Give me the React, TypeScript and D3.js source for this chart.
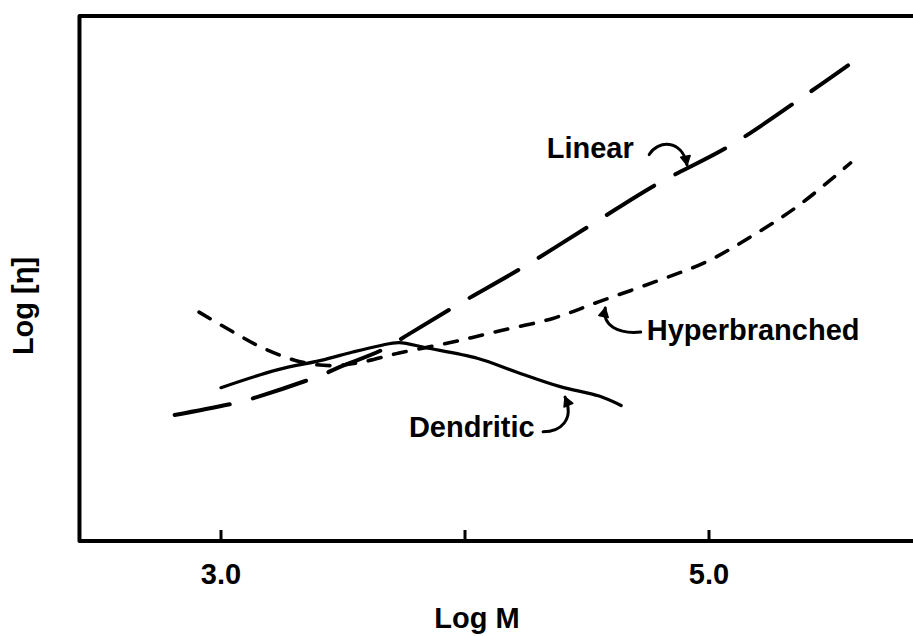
import React from "react";
import * as d3 from "d3";

// ---- data (Log M vs relative Log [η]) ----
const linearLogM = [2.81, 3.07, 3.16, 3.40, 3.49, 3.66, 3.77, 3.97, 4.24, 4.53, 4.78, 5.09, 5.41, 5.57];
const linearLogEta = [1.20, 1.32, 1.38, 1.57, 1.66, 1.82, 1.97, 2.25, 2.61, 3.03, 3.39, 3.77, 4.27, 4.53];

const hyperLogM = [2.91, 3.05, 3.17, 3.32, 3.45, 3.57, 3.73, 3.94, 4.14, 4.36, 4.55, 4.78, 4.99, 5.18, 5.37, 5.58];
const hyperLogEta = [2.18, 1.99, 1.84, 1.71, 1.67, 1.70, 1.79, 1.89, 2.00, 2.12, 2.28, 2.47, 2.66, 2.91, 3.20, 3.60];

const dendLogM = [3.00, 3.23, 3.41, 3.54, 3.65, 3.73, 3.84, 4.05, 4.21, 4.39, 4.55, 4.64];
const dendLogEta = [1.46, 1.63, 1.72, 1.80, 1.86, 1.89, 1.84, 1.74, 1.61, 1.47, 1.38, 1.29];

const xTicks = [3, 4, 5];
const xTickLabels = ["3.0", "", "5.0"];

const xLabel = "Log M";
const yLabel = "Log [η]";

// annotation labels
const labelNames = ["Linear", "Hyperbranched", "Dendritic"];
const labelLogM = [4.335, 4.745, 3.77];
const labelLogEta = [3.65, 1.915, 0.995];

// arrows: start, control1, control2, tip (data units)
const arrowPts: [number, number][][] = [
  [[4.755, 3.68], [4.79, 3.82], [4.89, 3.83], [4.91, 3.58]],
  [[4.72, 1.99], [4.63, 1.97], [4.56, 2.05], [4.575, 2.22]],
  [[4.32, 1.04], [4.39, 1.04], [4.45, 1.15], [4.41, 1.37]],
];

const W = 913;
const H = 636;

export default function App() {
  const x = d3.scaleLinear().domain([3, 5]).range([221, 709]);
  const y = d3.scaleLinear().domain([0, 5]).range([541, 16]);

  const line = d3
    .line<[number, number]>()
    .x((d) => x(d[0]))
    .y((d) => y(d[1]))
    .curve(d3.curveCatmullRom.alpha(0.5));

  const zip = (a: number[], b: number[]) => a.map((v, i) => [v, b[i]] as [number, number]);

  const xLeft = x(2.42);
  const xRight = x(5.86);
  const yBottom = y(0);
  const yTop = y(5);

  const font = "'Liberation Sans', Arial, Helvetica, sans-serif";
  const fs = 29;

  const arrowPath = (pts: [number, number][]) => {
    const p = pts.map((q) => [x(q[0]), y(q[1])]);
    return `M${p[0][0]},${p[0][1]} C${p[1][0]},${p[1][1]} ${p[2][0]},${p[2][1]} ${p[3][0]},${p[3][1]}`;
  };
  const arrowHead = (pts: [number, number][]) => {
    const tip = [x(pts[3][0]), y(pts[3][1])];
    const c = [x(pts[2][0]), y(pts[2][1])];
    const ang = Math.atan2(tip[1] - c[1], tip[0] - c[0]);
    const len = 10;
    const spread = 0.5;
    const a1 = [tip[0] - len * Math.cos(ang - spread), tip[1] - len * Math.sin(ang - spread)];
    const a2 = [tip[0] - len * Math.cos(ang + spread), tip[1] - len * Math.sin(ang + spread)];
    return `M${a1[0]},${a1[1]} L${tip[0]},${tip[1]} L${a2[0]},${a2[1]} Z`;
  };

  return (
    <svg
      width={W}
      height={H}
      viewBox={`0 0 ${W} ${H}`}
      style={{ position: "absolute", left: 0, top: 0, background: "#fff" }}
    >
      <rect x={0} y={0} width={W} height={H} fill="#fff" />
      {/* frame */}
      <path
        d={`M${xRight},${yTop} L${xLeft},${yTop} L${xLeft},${yBottom} L${xRight},${yBottom}`}
        fill="none"
        stroke="#000"
        strokeWidth={4}
        strokeLinejoin="round"
      />
      {/* ticks */}
      {xTicks.map((t, i) => (
        <g key={t}>
          <line x1={x(t)} x2={x(t)} y1={yBottom} y2={yBottom - 11} stroke="#000" strokeWidth={3} />
          {xTickLabels[i] && (
            <text
              x={x(t)}
              y={yBottom + 43}
              textAnchor="middle"
              fontFamily={font}
              fontWeight="bold"
              fontSize={fs}
              fill="#000"
            >
              {xTickLabels[i]}
            </text>
          )}
        </g>
      ))}
      {/* axis titles */}
      <text
        x={(x(3) + x(5)) / 2 + 12}
        y={628}
        textAnchor="middle"
        fontFamily={font}
        fontWeight="bold"
        fontSize={fs}
        fill="#000"
      >
        {xLabel}
      </text>
      <text
        transform={`translate(33,306) rotate(-90)`}
        textAnchor="middle"
        fontFamily={font}
        fontWeight="bold"
        fontSize={fs}
        fill="#000"
      >
        {yLabel}
      </text>

      {/* curves */}
      <path
        d={line(zip(linearLogM, linearLogEta)) || ""}
        fill="none"
        stroke="#000"
        strokeWidth={4}
        strokeDasharray="56,24"
        strokeLinecap="round"
      />
      <path
        d={line(zip(hyperLogM, hyperLogEta)) || ""}
        fill="none"
        stroke="#000"
        strokeWidth={3.6}
        strokeDasharray="13,13"
        strokeLinecap="round"
      />
      <path
        d={line(zip(dendLogM, dendLogEta)) || ""}
        fill="none"
        stroke="#000"
        strokeWidth={3.2}
        strokeLinecap="round"
      />

      {/* labels */}
      {labelNames.map((n, i) => (
        <text
          key={n}
          x={x(labelLogM[i])}
          y={y(labelLogEta[i])}
          fontFamily={font}
          fontWeight="bold"
          fontSize={fs}
          fill="#000"
        >
          {n}
        </text>
      ))}
      {arrowPts.map((pts, i) => (
        <g key={i}>
          <path d={arrowPath(pts)} fill="none" stroke="#000" strokeWidth={3} strokeLinecap="round" />
          <path d={arrowHead(pts)} fill="#000" stroke="#000" strokeWidth={1.5} strokeLinejoin="round" />
        </g>
      ))}
    </svg>
  );
}
